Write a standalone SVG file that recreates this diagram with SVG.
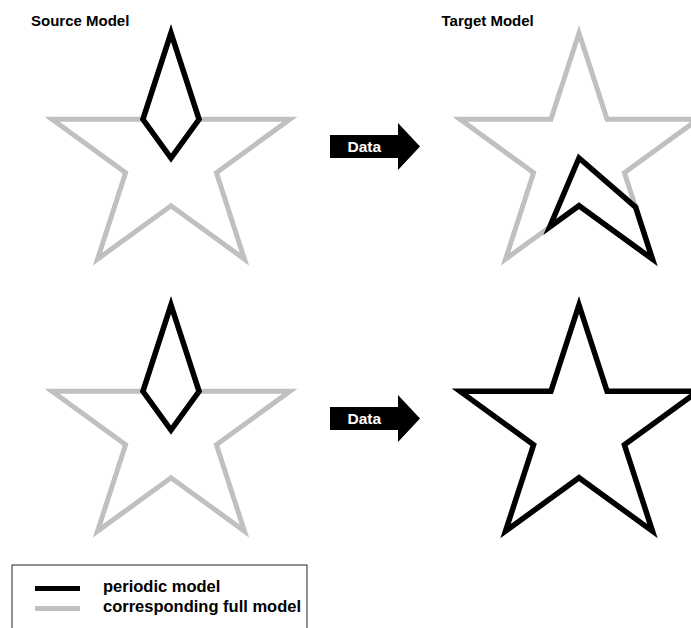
<svg xmlns="http://www.w3.org/2000/svg" xmlns:xlink="http://www.w3.org/1999/xlink" width="691" height="628" viewBox="0 0 691 628">
  <style>
    .full { fill: none; stroke: #c0c0c0; stroke-width: 5; stroke-linejoin: miter; }
    .periodic { fill: none; stroke: #000; stroke-width: 5.5; stroke-linejoin: miter; }
    .title { font-family: "Liberation Sans", Arial, sans-serif; font-weight: bold; font-size: 15px; fill: #000; }
    .legend-text { font-family: "Liberation Sans", Arial, sans-serif; font-weight: bold; font-size: 16.5px; fill: #000; }
    .arrow-body { fill: #000; }
    .arrow-label { font-family: "Liberation Sans", Arial, sans-serif; font-weight: bold; font-size: 15.5px; fill: #fff; }
  </style>
  <defs>
    <!-- five-pointed star, centred on the origin, outer radius 125, inner radius 47.75 -->
    <path id="star" d="M0,-125 L28.07,-38.63 L118.88,-38.63 L45.41,14.76 L73.47,101.13 L0,47.75 L-73.47,101.13 L-45.41,14.76 L-118.88,-38.63 L-28.07,-38.63 Z"/>
    <!-- one 72-degree sector of the star (the repeating unit) -->
    <path id="sector" d="M0,-125 L28.07,-38.63 L0,0 L-28.07,-38.63 Z"/>
    <!-- the same sector rotated by 167 degrees, clipped to the star outline -->
    <path id="sector-rot" d="M0,0 L56.6,49.2 L73.47,101.13 L0,47.75 L-29.3,69.0 Z"/>
    <!-- block arrow -->
    <path id="arrow" d="M0,-11.5 H68 V-23.5 L90,0 L68,23.5 V11.5 H0 Z"/>
  </defs>

  <text class="title" x="31" y="26">Source Model</text>
  <text class="title" x="441.5" y="26">Target Model</text>

  <!-- top row -->
  <g id="source-top" transform="translate(171,158)">
    <use xlink:href="#star" class="full"/>
    <use xlink:href="#sector" class="periodic"/>
  </g>
  <g id="target-top" transform="translate(579,158)">
    <use xlink:href="#star" class="full"/>
    <use xlink:href="#sector-rot" class="periodic"/>
  </g>

  <!-- bottom row -->
  <g id="source-bottom" transform="translate(171,430)">
    <use xlink:href="#star" class="full"/>
    <use xlink:href="#sector" class="periodic"/>
  </g>
  <g id="target-bottom" transform="translate(579,430)">
    <use xlink:href="#star" class="periodic"/>
  </g>

  <!-- data transfer arrows -->
  <g id="connectors">
    <g transform="translate(330,146.5)">
      <use xlink:href="#arrow" class="arrow-body"/>
      <text class="arrow-label" x="17.5" y="5">Data</text>
    </g>
    <g transform="translate(330,418.5)">
      <use xlink:href="#arrow" class="arrow-body"/>
      <text class="arrow-label" x="17.5" y="5">Data</text>
    </g>
  </g>

  <!-- legend -->
  <g id="legend">
    <rect x="12" y="565" width="295" height="80" fill="#fff" stroke="#222" stroke-width="1"/>
    <line x1="35" y1="588.5" x2="80" y2="588.5" stroke="#000" stroke-width="5"/>
    <line x1="35" y1="608.5" x2="80" y2="608.5" stroke="#c0c0c0" stroke-width="5"/>
    <text class="legend-text" x="103" y="592">periodic model</text>
    <text class="legend-text" x="103" y="612">corresponding full model</text>
  </g>
</svg>
